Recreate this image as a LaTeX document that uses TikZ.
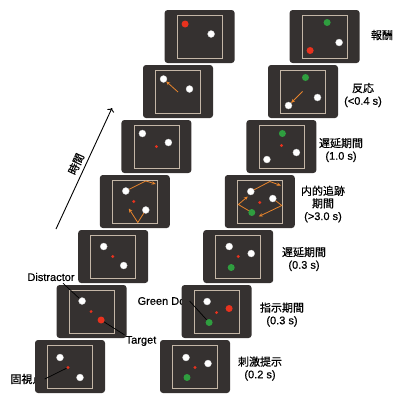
\documentclass[tikz,border=0pt]{standalone}
\usepackage{fontspec}
\setmainfont{Liberation Sans}[FakeBold=0.6]
\newfontfamily\jp{Noto Sans CJK JP}[FakeBold=0.6]
\usepackage{tikz}
\usetikzlibrary{arrows.meta,calc}

\definecolor{panelgray}{HTML}{353130}
\definecolor{framegray}{HTML}{C4B6A6}
\definecolor{dotred}{HTML}{E8321E}
\definecolor{dotgreen}{HTML}{2F9E3F}
\definecolor{motionorange}{HTML}{E8842C}

\tikzset{
  panel/.style={rectangle, rounded corners=3pt, fill=panelgray, minimum width=70pt, minimum height=53pt, inner sep=0pt},
  frame/.style={rectangle, draw=framegray, line width=0.6pt, minimum width=45pt, minimum height=43pt, inner sep=0pt},
  wdot/.style={circle, fill=white, draw=gray!40, line width=0.3pt, minimum size=7pt, inner sep=0pt},
  rdot/.style={circle, fill=dotred, minimum size=7pt, inner sep=0pt},
  gdot/.style={circle, fill=dotgreen, minimum size=7pt, inner sep=0pt},
  fixdot/.style={circle, fill=dotred, minimum size=3.2pt, inner sep=0pt},
  motion/.style={draw=motionorange, line width=0.8pt, -{Stealth[length=4pt,width=3.5pt]}},
  pointer/.style={draw=black, line width=0.7pt},
  lbl/.style={font=\fontsize{11}{12.5}\selectfont, text=black, inner sep=1pt, align=center}
}

\begin{document}
\begin{tikzpicture}[x=1pt, y=-1pt]
\useasboundingbox (0,0) rectangle (395,394);

% Labels (drawn first, panels cover them)
\node[lbl] (fx) at (27,379) {\jp 固視点};
\node[lbl] (distr) at (51,277) {Distractor};
\node[lbl] (tgt) at (141,341) {Target};
\node[lbl] (gd) at (163,301) {Green Dot};

\node[lbl] (rew) at (382,35) {\jp 報酬};
\node[lbl] (resp) at (363,95) {{\jp 反応}\\(<0.4 s)};
\node[lbl] (delb) at (341,150) {{\jp 遅延期間}\\(1.0 s)};
\node[lbl] (track) at (323,204) {{\jp 内的追跡}\\{\jp 期間}\\(>3.0 s)};
\node[lbl] (dela) at (304,259) {{\jp 遅延期間}\\(0.3 s)};
\node[lbl] (cue) at (282,314.5) {{\jp 指示期間}\\(0.3 s)};
\node[lbl] (stim) at (260,368.5) {{\jp 刺激提示}\\(0.2 s)};

% Time axis
\coordinate (t0) at (56,229);
\coordinate (t1) at (112,108);
\draw[line width=0.9pt, ->] (t0) -- (t1);
\node[lbl, rotate=65, inner sep=0pt] (time) at (76,164) {\jp 時間};

% Panels
\foreach \i in {1,...,7} {
    \node[panel] (L\i) at ({70+21.6*(\i-1)},{366.5-55*(\i-1)}) {};
    \node[frame] (fL\i) at (L\i) {};
    \node[panel] (R\i) at ({195+21.6*(\i-1)},{366.5-55*(\i-1)}) {};
    \node[frame] (fR\i) at (R\i) {};
}

% Left column
\begin{scope}[shift={(L1)}]
    \node[wdot] (L1a) at (-10,-9) {};
    \node[wdot] (L1b) at (10,11) {};
    \node[fixdot] (L1f) at (-2,1) {};
\end{scope}
\begin{scope}[shift={(L2)}]
    \node[wdot] (L2a) at (-9.5,-10.5) {};
    \node[fixdot] (L2f) at (-0.5,0) {};
    \node[rdot] (L2t) at (9.5,8.5) {};
\end{scope}
\begin{scope}[shift={(L3)}]
    \node[wdot] (L3a) at (-9.5,-10) {};
    \node[fixdot] (L3f) at (-0.5,0) {};
    \node[wdot] (L3b) at (10.5,9) {};
\end{scope}
\begin{scope}[shift={(L4)}]
    \node[wdot] (L4a) at (-9,-10.5) {};
    \node[fixdot] (L4f) at (-1,0) {};
    \node[wdot] (L4b) at (11,8.5) {};
    \draw[motion] (L4a) -- (11,-20.5) -- (21,-17.5);
    \draw[motion] (L4b) -- (3,21) -- (-6,7);
\end{scope}
\begin{scope}[shift={(L5)}]
    \node[wdot] (L5a) at (-14,-13) {};
    \node[fixdot] (L5f) at (0,0) {};
    \node[wdot] (L5b) at (12,-4) {};
\end{scope}
\begin{scope}[shift={(L6)}]
    \node[wdot] (L6a) at (-14.5,-12.5) {};
    \node[wdot] (L6b) at (11.5,-2.5) {};
    \coordinate (L6o) at (0,0.5);
    \draw[motion] (L6o) -- (L6a);
\end{scope}
\begin{scope}[shift={(L7)}]
    \node[rdot] (L7a) at (-14.5,-12.5) {};
    \node[wdot] (L7b) at (11.5,-2.5) {};
\end{scope}

% Right column
\begin{scope}[shift={(R1)}]
    \node[wdot] (R1a) at (-9,-9) {};
    \node[wdot] (R1b) at (13,-3) {};
    \node[fixdot] (R1f) at (0,1) {};
    \node[gdot] (R1g) at (-8,11) {};
\end{scope}
\begin{scope}[shift={(R2)}]
    \node[wdot] (R2a) at (-9.5,-10) {};
    \node[fixdot] (R2f) at (0,1) {};
    \node[rdot] (R2t) at (12.5,-3) {};
    \node[gdot] (R2g) at (-7.5,11) {};
\end{scope}
\begin{scope}[shift={(R3)}]
    \node[wdot] (R3a) at (-9,-10) {};
    \node[fixdot] (R3f) at (0,0) {};
    \node[wdot] (R3b) at (13,-3) {};
    \node[gdot] (R3g) at (-7,11) {};
\end{scope}
\begin{scope}[shift={(R4)}]
    \node[wdot] (R4a) at (-9,-10) {};
    \node[fixdot] (R4f) at (0,1) {};
    \node[wdot] (R4b) at (13,-3) {};
    \node[gdot] (R4g) at (-8,11) {};
    \draw[motion] (R4a) -- (10,-20) -- (21,-16);
    \draw[motion] (R4b) -- (22,4) -- (-1,15);
    \draw[motion] (R4g) -- (-21.5,3) -- (-12,-5);
\end{scope}
\begin{scope}[shift={(R5)}]
    \node[gdot] (R5g) at (1,-13) {};
    \node[fixdot] (R5f) at (0,-1) {};
    \node[wdot] (R5a) at (15,6) {};
    \node[wdot] (R5b) at (-14.5,13) {};
\end{scope}
\begin{scope}[shift={(R6)}]
    \node[gdot] (R6g) at (2.5,-14) {};
    \node[wdot] (R6a) at (14.5,6) {};
    \node[wdot] (R6b) at (-14.5,14) {};
    \coordinate (R6o) at (-0.5,0);
    \draw[motion] (R6o) -- (R6b);
\end{scope}
\begin{scope}[shift={(R7)}]
    \node[gdot] (R7g) at (2.5,-14) {};
    \node[rdot] (R7t) at (-14.5,14) {};
    \node[wdot] (R7a) at (14.5,6) {};
\end{scope}

% Pointers
\draw[pointer] ($(distr.south)+(12,1)$) -- (L2a);
\draw[pointer] (L2t) -- (tgt.north west);
\draw[pointer] (gd.east) -- (R2g);
\draw[pointer] (fx.east) -- (L1f);
\end{tikzpicture}
\end{document}
